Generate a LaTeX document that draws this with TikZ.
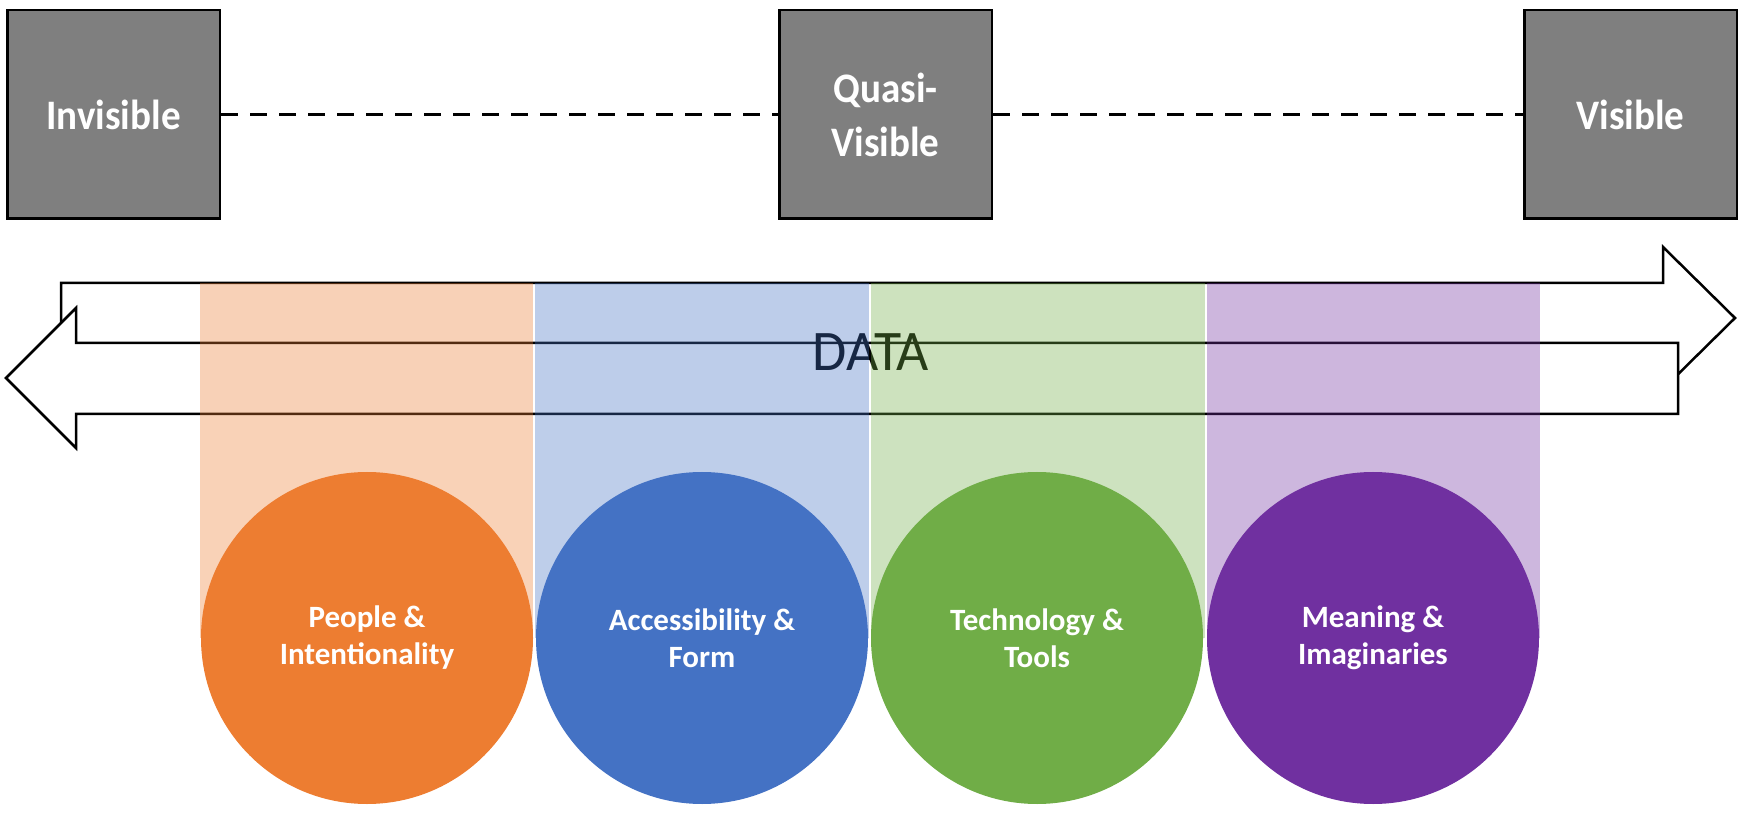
\documentclass[tikz,border=0pt]{standalone}
\usepackage{fontspec}
\setmainfont{Carlito}
\newfontfamily\boxfont[FakeStretch=0.93]{Carlito}
\newfontfamily\datafont[FakeStretch=0.97]{Carlito}
\newfontfamily\circfont{Carlito}
\definecolor{boxgray}{HTML}{7F7F7F}
\definecolor{corange}{HTML}{ED7D31}
\definecolor{cblue}{HTML}{4472C4}
\definecolor{cgreen}{HTML}{70AD47}
\definecolor{cpurple}{HTML}{7030A0}
\begin{document}
\begin{tikzpicture}[x=0.5pt,y=-0.5pt,
  gbox/.style={draw=black, line width=1.25pt, fill=boxgray, minimum width=106.25pt,
    minimum height=104.25pt, inner sep=0pt, text=white, align=center,
    font=\boxfont\bfseries\fontsize{21}{27}\selectfont},
  conn/.style={draw=black, line width=1.5pt, dash pattern=on 8.5pt off 6pt},
  blockarrow/.style={draw=black, line width=1.25pt, fill=white, line join=miter},
  band/.style={fill opacity=0.35},
  bubble/.style={circle, minimum size=166pt, inner sep=0pt, text=white, align=center,
    font=\circfont\bfseries\fontsize{15.5}{18.5}\selectfont},
  datalabel/.style={inner sep=0pt, anchor=base, text=black,
    font=\datafont\fontsize{28.7}{30}\selectfont}]
\useasboundingbox (0,0) rectangle (1750,817);

% block arrows
\draw[blockarrow] (61,283) -- (1663,283) -- (1663,247) -- (1735,318) -- (1663,389)
  -- (1663,353) -- (61,353) -- cycle;
\draw[blockarrow] (1678,343) -- (76,343) -- (76,308) -- (6,378) -- (76,448)
  -- (76,414) -- (1678,414) -- cycle;

% DATA label
\node[datalabel] (data) at (871,371) {DATA};

% translucent bands
\fill[band, corange] (200,283) rectangle (533,638);
\fill[band, cblue]   (535,283) rectangle (869,638);
\fill[band, cgreen]  (871,283) rectangle (1205,638);
\fill[band, cpurple] (1207,283) rectangle (1540,638);

% circles
\node[bubble, fill=corange] (people) at (367,638) {People \&\\Intentionality};
\node[bubble, fill=cblue]   (access) at (702,638) {Accessibility \&\\Form};
\node[bubble, fill=cgreen]  (tech)   at (1037,638) {Technology \&\\Tools};
\node[bubble, fill=cpurple] (mean)   at (1373,638) {Meaning \&\\Imaginaries};

% top boxes
\node[gbox] (inv) at (113.5,114.5) {Invisible};
\node[gbox] (quasi) at (885.5,114.5) {Quasi-\\Visible};
\node[gbox] (vis) at (1630.5,114.5) {Visible};

\draw[conn] (inv.east) -- (quasi.west);
\draw[conn] (quasi.east) -- (vis.west);
\end{tikzpicture}
\end{document}
